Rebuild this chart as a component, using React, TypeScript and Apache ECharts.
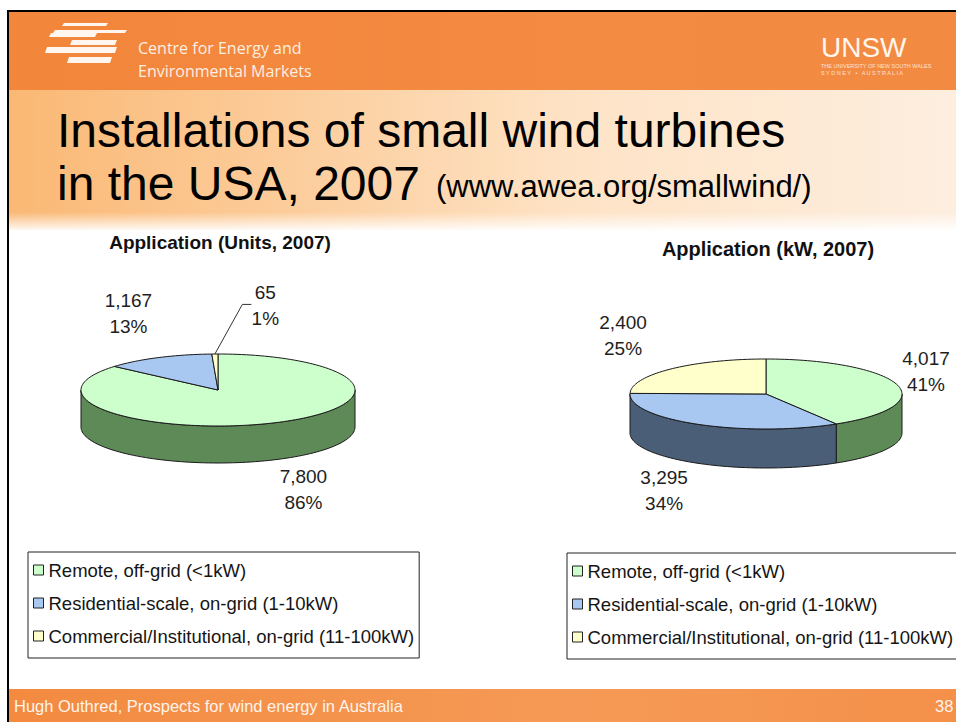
import React, { useEffect, useRef } from "react";
import * as echarts from "echarts";

// ---------- data ----------
const categories = [
  "Remote, off-grid (<1kW)",
  "Residential-scale, on-grid (1-10kW)",
  "Commercial/Institutional, on-grid (11-100kW)",
];
const unitsValues = [7800, 1167, 65];
const kwValues = [4017, 3295, 2400];
const pieTitles = ["Application (Units, 2007)", "Application (kW, 2007)"];
const slideTitleLine1 = "Installations of small wind turbines";
const slideTitleLine2 = "in the USA, 2007";
const slideTitleSource = "(www.awea.org/smallwind/)";
const footerText = "Hugh Outhred, Prospects for wind energy in Australia";
const pageNumber = "38";

// ---------- styles ----------
const topColors = ["#ccffcc", "#a8c8f2", "#ffffcc"];
const sideColors = ["#5e8a58", "#4a5e78", "#9c9c62"];
const FONT = "'Liberation Sans', Arial, Helvetica, sans-serif";
const pieGeom = [
  { cx: 218, cy: 390, rx: 137, ry: 36, depth: 37 },
  { cx: 766, cy: 394, rx: 136, ry: 35, depth: 39 },
];
const pieValues = [unitsValues, kwValues];

function makeRender(pieIdx: number, catIdx: number) {
  return (params: any, api: any) => {
    const values = pieValues[pieIdx];
    const g = pieGeom[pieIdx];
    const W = api.getWidth();
    const total = values.reduce((a, b) => a + b, 0);
    const v = api.value(0) as number;
    let before = 0;
    for (let k = 0; k < catIdx; k++) before += values[k];
    const a0 = (before / total) * Math.PI * 2;
    const a1 = ((before + v) / total) * Math.PI * 2;
    const pt = (t: number, dz: number) => [g.cx + g.rx * Math.sin(t), g.cy - g.ry * Math.cos(t) + dz];
    const arc = (s: number, e: number, dz: number) => {
      const n = Math.max(2, Math.ceil((e - s) / (Math.PI / 90)));
      const pts: number[][] = [];
      for (let i = 0; i <= n; i++) pts.push(pt(s + ((e - s) * i) / n, dz));
      return pts;
    };
    const children: any[] = [];
    const s = Math.max(a0, Math.PI / 2);
    const e = Math.min(a1, (3 * Math.PI) / 2);
    if (e > s) {
      const top = arc(s, e, 0);
      const bot = arc(s, e, g.depth).reverse();
      children.push({
        type: "polygon",
        shape: { points: top.concat(bot) },
        style: { fill: sideColors[catIdx], stroke: "#1a1a1a", lineWidth: 1 },
      });
    }
    children.push({
      type: "polygon",
      shape: { points: [[g.cx, g.cy]].concat(arc(a0, a1, 0)) },
      style: { fill: topColors[catIdx], stroke: "#1a1a1a", lineWidth: 1 },
    });
    // label
    const pct = Math.round((v / total) * 100);
    const m = (a0 + a1) / 2;
    const c = Math.cos(m);
    let lx = g.cx + 1.5 * g.rx * Math.sin(m);
    let ly = c >= 0 ? g.cy - 2.35 * g.ry * c : g.cy - 1.9 * g.ry * c + g.depth;
    if (pct < 5) {
      lx += 52;
      const edge = pt(m, 0);
      children.push({
        type: "polyline",
        shape: { points: [[lx - 14, ly - 1], [lx - 23, ly - 1], edge] },
        style: { stroke: "#333", lineWidth: 1, fill: null },
      });
    }
    lx = Math.min(lx, W - 30);
    children.push({
      type: "text",
      x: lx,
      y: ly,
      style: {
        text: v.toLocaleString("en-US") + "\n" + pct + "%",
        fill: "#1e1e1e",
        fontSize: 19,
        fontFamily: FONT,
        lineHeight: 26,
        align: "center",
        verticalAlign: "middle",
        textAlign: "center",
        textVerticalAlign: "middle",
      },
    });
    return { type: "group", children };
  };
}

function txt(x: number, y: number, text: string, size: number, fill: string, extra: any = {}) {
  return {
    type: "text",
    x,
    y,
    z: 5,
    style: {
      text,
      fill,
      fontSize: size,
      fontFamily: FONT,
      textAlign: "left",
      textVerticalAlign: "middle",
      align: "left",
      verticalAlign: "middle",
      ...extra,
    },
  };
}

export default function App() {
  const ref = useRef<HTMLDivElement>(null);
  useEffect(() => {
    if (!ref.current) return;
    const chart = echarts.init(ref.current, undefined, { renderer: "svg" });
    const series: any[] = [];
    for (let p = 0; p < 2; p++) {
      for (let i = 0; i < categories.length; i++) {
        series.push({
          type: "custom",
          name: categories[i],
          coordinateSystem: "none",
          data: [[pieValues[p][i]]],
          itemStyle: { color: topColors[i] },
          renderItem: makeRender(p, i),
          z: 3,
        });
      }
    }
    const legendBase = {
      data: categories,
      orient: "vertical",
      icon: "rect",
      itemWidth: 10,
      itemHeight: 10,
      itemGap: 13,
      padding: [8, 5, 12, 5],
      borderColor: "#222",
      borderWidth: 1,
      backgroundColor: "#fff",
      selectedMode: false,
      itemStyle: { borderColor: "#222", borderWidth: 1 },
      textStyle: { fontSize: 18.5, fontFamily: FONT, color: "#151515", lineHeight: 20 },
    };
    const stripes = [
      [62, 23, 108, 26],
      [53, 30, 127, 33],
      [49, 33, 97, 37],
      [70, 40, 117, 45],
      [45, 47, 117, 53],
      [67, 57, 112, 63],
    ];
    const graphic: any[] = [
      // slide frame
      { type: "rect", shape: { x: 7, y: 10, width: 2, height: 712 }, style: { fill: "#000" }, z: 1 },
      { type: "rect", shape: { x: 7, y: 10, width: 949, height: 2 }, style: { fill: "#000" }, z: 1 },
      // header band
      {
        type: "rect",
        shape: { x: 9, y: 12, width: 947, height: 78 },
        style: {
          fill: new echarts.graphic.LinearGradient(0, 0, 1, 0, [
            { offset: 0, color: "#f2863b" },
            { offset: 0.6, color: "#f48b42" },
            { offset: 1, color: "#f38a41" },
          ]),
        },
        z: 0,
      },
      // title band
      {
        type: "rect",
        shape: { x: 9, y: 90, width: 947, height: 140 },
        style: {
          fill: new echarts.graphic.LinearGradient(0, 0, 1, 0, [
            { offset: 0, color: "#fab874" },
            { offset: 0.3, color: "#fccd9c" },
            { offset: 0.6, color: "#fee3c6" },
            { offset: 1, color: "#fdeedf" },
          ]),
        },
        z: 0,
      },
      {
        type: "rect",
        shape: { x: 9, y: 212, width: 947, height: 20 },
        style: {
          fill: new echarts.graphic.LinearGradient(0, 0, 0, 1, [
            { offset: 0, color: "rgba(255,255,255,0)" },
            { offset: 1, color: "#ffffff" },
          ]),
        },
        z: 0,
      },
      // footer band
      {
        type: "rect",
        shape: { x: 9, y: 689, width: 947, height: 33 },
        style: {
          fill: new echarts.graphic.LinearGradient(0, 0, 1, 0, [
            { offset: 0, color: "#f38a40" },
            { offset: 0.6, color: "#f59a56" },
            { offset: 1, color: "#f4904a" },
          ]),
        },
        z: 0,
      },
      // logo stripes
      ...stripes.map((s) => ({
        type: "polygon",
        shape: { points: [[s[0] + 2, s[1]], [s[2], s[1]], [s[2] - 2, s[3]], [s[0], s[3]]] },
        style: { fill: "#fff7ef" },
        z: 2,
      })),
      txt(138, 48, "Centre for Energy and", 16, "#fdeee2", { fontFamily: "'Open Sans', sans-serif" }),
      txt(138, 71, "Environmental Markets", 16, "#fdeee2", { fontFamily: "'Open Sans', sans-serif" }),
      txt(821, 47, "UNSW", 28, "#fff6ee"),
      txt(821, 65.5, "THE UNIVERSITY OF NEW SOUTH WALES", 5.5, "#fde3cf"),
      txt(821, 72.5, "S Y D N E Y   •   A U S T R A L I A", 5.5, "#fde3cf"),
      // slide title
      txt(57, 130, slideTitleLine1, 48, "#000"),
      txt(57, 183, slideTitleLine2, 48, "#000"),
      txt(436, 186, slideTitleSource, 31, "#000"),
      // chart titles
      txt(220, 242, pieTitles[0], 19, "#111", { fontWeight: "bold", textAlign: "center", align: "center" }),
      txt(768, 249, pieTitles[1], 20, "#111", { fontWeight: "bold", textAlign: "center", align: "center" }),
      // footer
      txt(14, 706, footerText, 16.5, "#fff4ec"),
      txt(935, 706, pageNumber, 16.5, "#fff4ec"),
    ];
    chart.setOption({
      animation: false,
      backgroundColor: "#ffffff",
      textStyle: { fontFamily: FONT },
      legend: [
        { ...legendBase, left: 28, top: 552 },
        { ...legendBase, left: 567, top: 553 },
      ],
      graphic,
      series,
    });
    return () => chart.dispose();
  }, []);
  return (
    <div
      ref={ref}
      style={{ position: "fixed", left: 0, top: 0, width: 956, height: 722 }}
    />
  );
}
